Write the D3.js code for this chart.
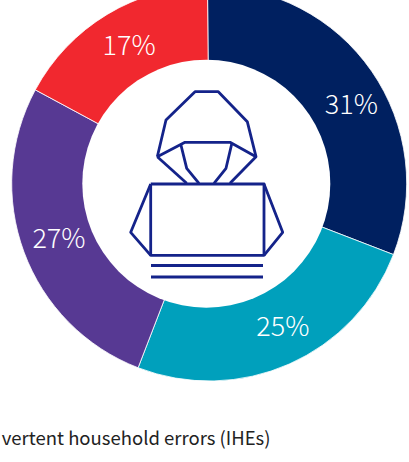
<!DOCTYPE html>
<html>
<head>
<meta charset="utf-8">
<script src="https://cdn.jsdelivr.net/npm/d3@7/dist/d3.min.js"></script>
<style>
html,body{margin:0;padding:0;background:#fff;overflow:hidden}
svg{display:block}
text{font-family:"Noto Sans CJK SC","Noto Sans",sans-serif}
</style>
</head>
<body>
<script>
// Share of incidents by cause, clockwise from twelve o'clock
const shares = [31, 25, 27, 17];
const shareColors = ["#002060", "#00a0bc", "#573993", "#f1282f"];
const caption = "vertent household errors (IHEs)";

const width = 409, height = 462;
const cx = 209.2, cy = 183.5, outerR = 197.5;
// The hole is a separate disc, sitting slightly left of the ring's centre
const holeX = 206.3, holeY = 183.7, holeR = 124;
const startTilt = -0.5 * Math.PI / 180;

const svg = d3.select("body").append("svg").attr("width", width).attr("height", height);
const ring = svg.append("g").attr("transform", `translate(${cx},${cy})`);

const pie = d3.pie().sort(null).value(d => d)
  .startAngle(startTilt).endAngle(2 * Math.PI + startTilt);
const arc = d3.arc().innerRadius(100).outerRadius(outerR);
const labelArc = d3.arc().innerRadius(124).outerRadius(outerR);
const slices = pie(shares);

ring.selectAll("path").data(slices).join("path")
  .attr("d", arc)
  .attr("fill", (d, i) => shareColors[i])
  .attr("stroke", "#fff")
  .attr("stroke-width", 0.8);

svg.append("circle")
  .attr("cx", holeX).attr("cy", holeY).attr("r", holeR)
  .attr("fill", "#fff");

// Labels sit on the ring; each is shifted along x/y from the slice centroid
const labelShift = [[10, 10], [8.5, -5.5], [0.5, -3], [3, -2]];
ring.selectAll("text").data(slices).join("text")
  .attr("x", (d, i) => labelArc.centroid(d)[0] + labelShift[i][0])
  .attr("y", (d, i) => labelArc.centroid(d)[1] + labelShift[i][1])
  .attr("text-anchor", "middle")
  .attr("dominant-baseline", "central")
  .attr("fill", "#fff")
  .attr("font-size", 27)
  .attr("font-weight", 300)
  .text(d => d.value + "%");

// Hooded figure at a laptop, drawn in the hole of the ring
const figure = [
  [[157.3,156.7],[166,120],[195,91.7],[218.3,91.7],[247.3,121.7],[256,156.7],[230,183.3]],
  [[157.3,156.7],[186.7,183.3]],
  [[157.3,156.7],[185,142.3],[230,142.3],[256,156.7]],
  [[180.7,144],[186.7,168.3],[199,183.3]],
  [[231.7,144],[226,168.3],[214,183.3]],
  [[150.7,184],[264,184],[264,255.3],[150.7,255.3],[150.7,184]],
  [[150.7,184],[130.7,232.3],[150.7,255.3]],
  [[264,184],[282.7,232.3],[264,255.3]],
  [[151,265.5],[263,265.5]],
  [[151,277],[263,277]]
];
svg.append("g").selectAll("path").data(figure).join("path")
  .attr("d", d3.line())
  .attr("fill", "none")
  .attr("stroke", "#14238a")
  .attr("stroke-width", 2.8)
  .attr("stroke-linejoin", "round");

svg.append("text")
  .attr("x", 270.5)
  .attr("y", 445)
  .attr("text-anchor", "end")
  .attr("fill", "#222")
  .attr("font-size", 18.5)
  .text(caption);
</script>
</body>
</html>
